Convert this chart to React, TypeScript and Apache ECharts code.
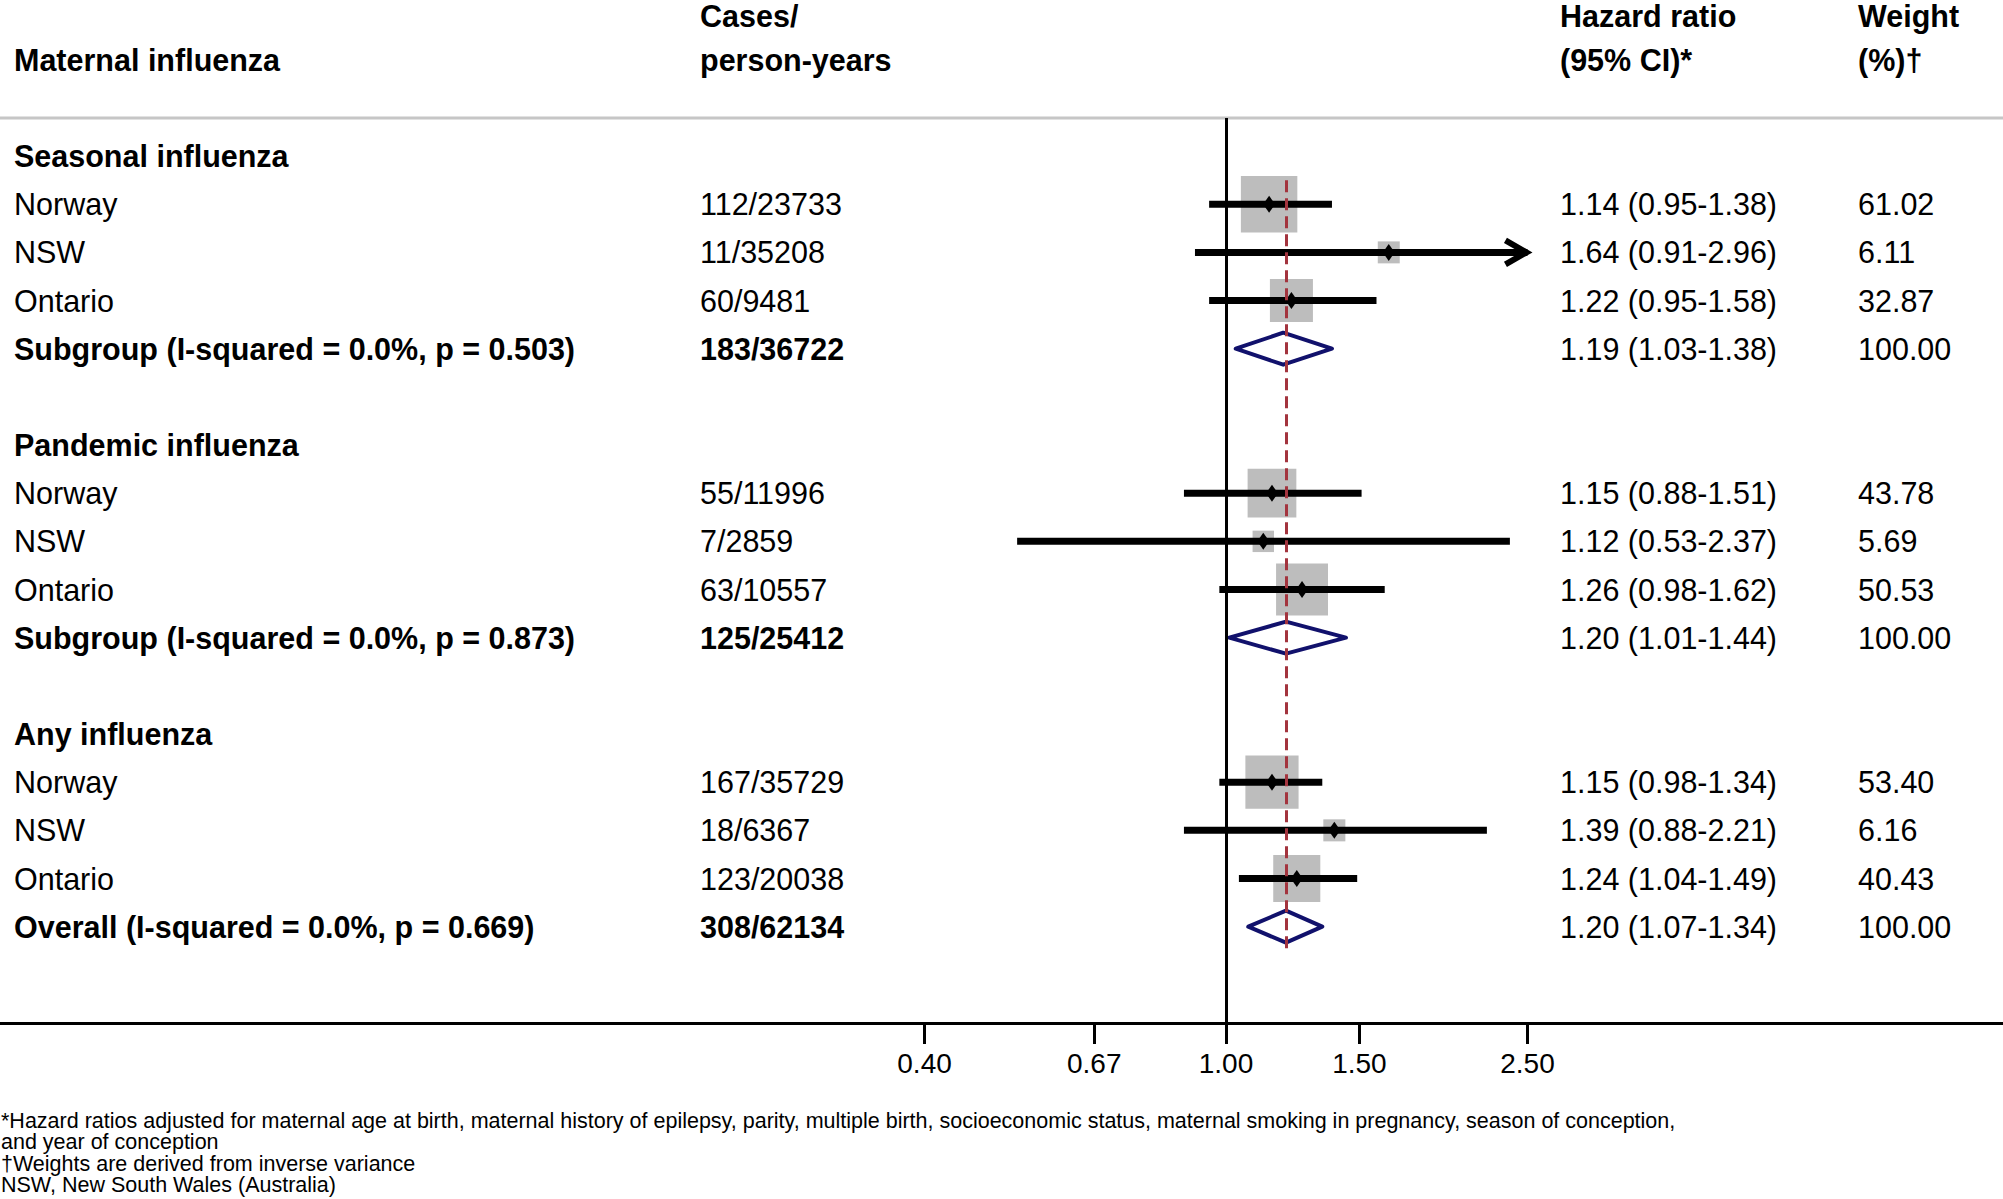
import React, { useEffect, useRef } from "react";
import * as echarts from "echarts";

// ---------------- data ----------------
const groupTitles = ["Seasonal influenza", "Pandemic influenza", "Any influenza"];
const studyNames = ["Norway", "NSW", "Ontario"];
const summaryNames = [
  "Subgroup (I-squared = 0.0%, p = 0.503)",
  "Subgroup (I-squared = 0.0%, p = 0.873)",
  "Overall (I-squared = 0.0%, p = 0.669)",
];
const casesPersonYears = [
  ["112/23733", "11/35208", "60/9481", "183/36722"],
  ["55/11996", "7/2859", "63/10557", "125/25412"],
  ["167/35729", "18/6367", "123/20038", "308/62134"],
];
const hazardRatio = [
  [1.14, 1.64, 1.22, 1.19],
  [1.15, 1.12, 1.26, 1.2],
  [1.15, 1.39, 1.24, 1.2],
];
const ciLower = [
  [0.95, 0.91, 0.95, 1.03],
  [0.88, 0.53, 0.98, 1.01],
  [0.98, 0.88, 1.04, 1.07],
];
const ciUpper = [
  [1.38, 2.96, 1.58, 1.38],
  [1.51, 2.37, 1.62, 1.44],
  [1.34, 2.21, 1.49, 1.34],
];
const weightPct = [
  [61.02, 6.11, 32.87, 100],
  [43.78, 5.69, 50.53, 100],
  [53.4, 6.16, 40.43, 100],
];
const xTickValues = [0.4, 0.67, 1, 1.5, 2.5];
const overallHR = 1.2;
const plotClipMax = 2.5;

const headerLine1 = ["", "Cases/", "Hazard ratio", "Weight"];
const headerLine2 = ["Maternal influenza", "person-years", "(95% CI)*", "(%)\u2020"];
const footnotes = [
  "*Hazard ratios adjusted for maternal age at birth, maternal history of epilepsy, parity, multiple birth, socioeconomic status, maternal smoking in pregnancy, season of conception,",
  "and year of conception",
  "\u2020Weights are derived from inverse variance",
  "NSW, New South Wales (Australia)",
];

// ---------------- layout / style ----------------
const W = 2003;
const H = 1199;
const FONT = '"Liberation Sans", Arial, Helvetica, sans-serif';
const colX = [14, 700, 1560, 1858];
const BOX_GRAY = "#bdbdbd";
const NAVY = "#11116c";
const DASH_RED = "#a3343e";
const TABLE_FONT = 30.5;

type TableRow = { row: number; cells: string[]; bold: boolean[] };

function fmt(v: number) {
  return v.toFixed(2);
}

function buildRows() {
  const rows: TableRow[] = [];
  const studies: number[][] = [];
  const summaries: number[][] = [];
  for (let g = 0; g < 3; g++) {
    const base = g * 6;
    rows.push({ row: base, cells: [groupTitles[g]], bold: [true] });
    for (let j = 0; j < 4; j++) {
      const isSum = j === 3;
      const r = base + 1 + j;
      rows.push({
        row: r,
        cells: [
          isSum ? summaryNames[g] : studyNames[j],
          casesPersonYears[g][j],
          `${fmt(hazardRatio[g][j])} (${fmt(ciLower[g][j])}-${fmt(ciUpper[g][j])})`,
          fmt(weightPct[g][j]),
        ],
        bold: [isSum, isSum, false, false],
      });
      if (isSum) summaries.push([hazardRatio[g][j], ciLower[g][j], ciUpper[g][j], r]);
      else studies.push([hazardRatio[g][j], ciLower[g][j], ciUpper[g][j], r, weightPct[g][j]]);
    }
  }
  return { rows, studies, summaries };
}

function txt(x: number, y: number, text: string, bold: boolean, size = TABLE_FONT, align = "left") {
  return {
    type: "text",
    x,
    y,
    silent: true,
    style: {
      text,
      font: `${bold ? "bold " : ""}${size}px ${FONT}`,
      fill: "#000",
      align,
      verticalAlign: "middle",
      textAlign: align,
      textVerticalAlign: "middle",
    },
  };
}

export default function App() {
  const ref = useRef<HTMLDivElement>(null);

  useEffect(() => {
    document.body.style.margin = "0";
    if (!ref.current) return;
    const chart = echarts.init(ref.current, null, { renderer: "svg" });
    const { rows, studies, summaries } = buildRows();

    const gridTop = 118;
    const gridBottom = 176;
    const xMin = Math.exp(-1226 / 329);
    const xMax = Math.exp((W - 1226) / 329);

    const graphic: any[] = [];
    // header texts
    for (let c = 0; c < 4; c++) {
      if (headerLine1[c]) graphic.push(txt(colX[c], 16, headerLine1[c], true));
      graphic.push(txt(colX[c], 59.5, headerLine2[c], true));
    }
    // gray rule
    graphic.push({
      type: "line",
      silent: true,
      shape: { x1: 0, y1: gridTop, x2: W, y2: gridTop },
      style: { stroke: "#c6c6c6", lineWidth: 3 },
    });
    // footnotes
    footnotes.forEach((f, i) => {
      graphic.push(txt(1, 1121 + i * 21.3, f, false, 21.5));
    });

    const option: any = {
      animation: false,
      backgroundColor: "#fff",
      grid: { left: 0, right: 0, top: gridTop, bottom: gridBottom, containLabel: false, outerBoundsMode: "none" },
      xAxis: {
        type: "log",
        min: xMin,
        max: xMax,
        position: "bottom",
        splitLine: { show: false },
        minorTick: { show: false },
        axisLine: { show: true, onZero: false, lineStyle: { color: "#000", width: 3 } },
        axisTick: {
          show: true,
          customValues: xTickValues,
          length: 21,
          inside: false,
          lineStyle: { color: "#000", width: 3 },
        },
        axisLabel: {
          show: true,
          customValues: xTickValues,
          formatter: (v: number) => Number(v).toFixed(2),
          fontSize: 28,
          fontFamily: FONT,
          color: "#000",
          margin: 26,
        },
      },
      yAxis: {
        type: "value",
        inverse: true,
        min: -0.79,
        max: 18,
        show: false,
        splitLine: { show: false },
      },
      graphic,
      series: [
        {
          name: "weightBoxes",
          type: "scatter",
          silent: true,
          symbol: "rect",
          data: studies.map((s) => [s[0], s[3], s[4]]),
          symbolSize: (val: number[]) => 6 + 6.46 * Math.sqrt(val[2]),
          itemStyle: { color: BOX_GRAY, opacity: 1 },
          z: 2,
        },
        {
          name: "ciLines",
          type: "custom",
          silent: true,
          data: studies,
          z: 3,
          renderItem: (params: any, api: any) => {
            const lo = api.value(1);
            const hi = api.value(2);
            const row = api.value(3);
            const clipped = hi > plotClipMax;
            const p0 = api.coord([lo, row]);
            const p1 = api.coord([clipped ? plotClipMax : hi, row]);
            const cy = p0[1];
            const children: any[] = [
              {
                type: "line",
                shape: { x1: p0[0], y1: cy, x2: p1[0], y2: cy },
                style: { stroke: "#000", lineWidth: 7 },
              },
            ];
            if (clipped) {
              children.push({
                type: "polyline",
                shape: { points: [[p1[0] - 22, cy - 12], [p1[0] - 1, cy], [p1[0] - 22, cy + 12]] },
                style: { stroke: "#000", lineWidth: 6, fill: null },
              });
            }
            return { type: "group", children };
          },
        },
        {
          name: "summaryDiamonds",
          type: "custom",
          silent: true,
          data: summaries,
          z: 3,
          renderItem: (params: any, api: any) => {
            const hr = api.value(0);
            const lo = api.value(1);
            const hi = api.value(2);
            const row = api.value(3);
            const c = api.coord([hr, row]);
            const l = api.coord([lo, row]);
            const r = api.coord([hi, row]);
            const h = 16;
            return {
              type: "polygon",
              shape: { points: [[l[0], c[1]], [c[0], c[1] - h], [r[0], c[1]], [c[0], c[1] + h]] },
              style: { stroke: NAVY, lineWidth: 4, fill: "none", lineJoin: "round" },
            };
          },
        },
        {
          name: "pointEstimates",
          type: "scatter",
          silent: true,
          symbol: "diamond",
          symbolSize: [12, 17],
          data: studies.map((s) => [s[0], s[3]]),
          itemStyle: { color: "#000", opacity: 1 },
          z: 4,
          markLine: {
            silent: true,
            symbol: "none",
            label: { show: false },
            emphasis: { disabled: true },
            data: [
              { xAxis: 1, lineStyle: { color: "#000", width: 3, type: "solid" } },
              [
                { coord: [overallHR, 0.5], lineStyle: { color: DASH_RED, width: 3, type: [12, 6] } },
                { coord: [overallHR, 16.5] },
              ],
            ],
          },
        },
        {
          name: "table",
          type: "custom",
          silent: true,
          data: rows.map((r) => [1, r.row]),
          z: 5,
          renderItem: (params: any, api: any) => {
            const r = rows[params.dataIndex];
            const y = api.coord([1, api.value(1)])[1];
            const children: any[] = [];
            r.cells.forEach((t, c) => {
              if (t) children.push(txt(colX[c], y, t, r.bold[c]));
            });
            return { type: "group", children };
          },
        },
      ],
    };

    chart.setOption(option);
    return () => chart.dispose();
  }, []);

  return (
    <div
      ref={ref}
      style={{ position: "absolute", left: 0, top: 0, width: W, height: H, background: "#fff" }}
    />
  );
}
